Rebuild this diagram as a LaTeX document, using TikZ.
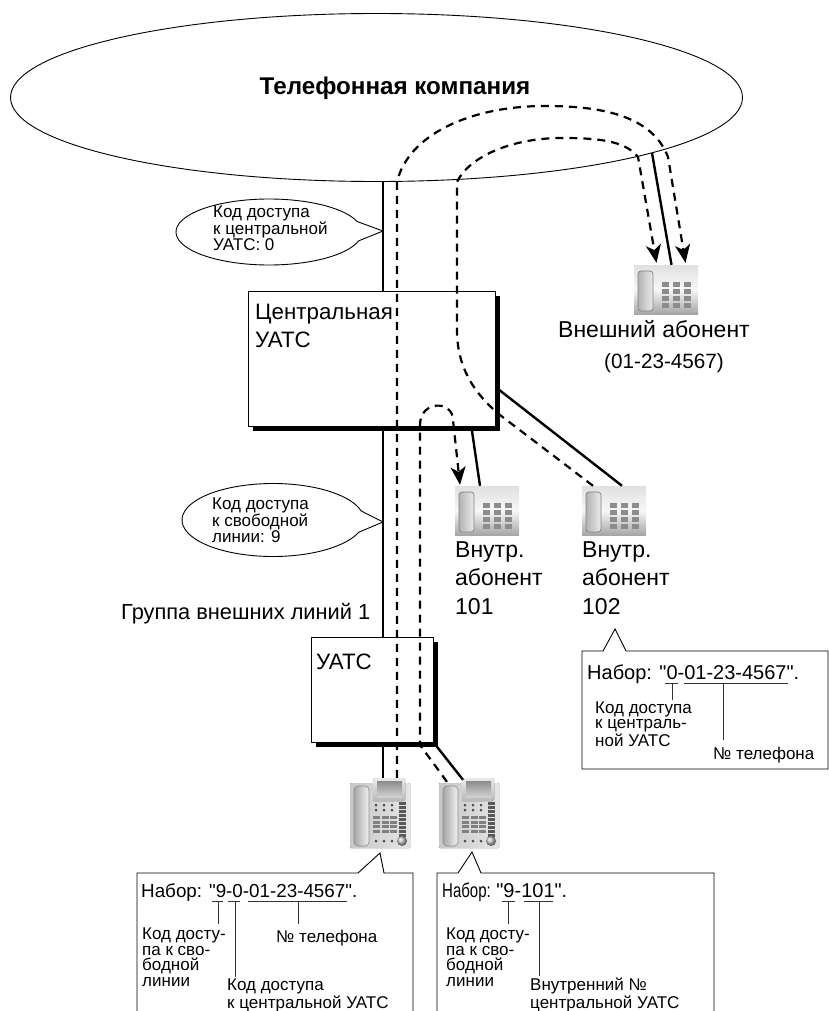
\documentclass[tikz,border=0pt]{standalone}
\usepackage{fontspec}
\usepackage{graphicx}
\setmainfont{Liberation Sans}[Ligatures=TeXOff]
\usetikzlibrary{arrows.meta,shapes.geometric,shapes.callouts,shadows}

\definecolor{keygray}{gray}{0.55}

\tikzset{
	trunk/.style={line width=2.4pt},
	route/.style={line width=2.2pt, dash pattern=on 8pt off 6pt},
	routetip/.style={route, -{Stealth[length=18pt,width=15pt,inset=5pt]}},
	pbxbox/.style={draw=black, fill=white, line width=1pt, inner sep=0pt, drop shadow={shadow xshift=5pt,shadow yshift=-5pt,fill=black,opacity=1}},
	bubble/.style={ellipse callout, draw=black, fill=white, line width=0.9pt, inner sep=0pt, callout pointer arc=34},
	balloon/.style={draw=black, fill=white, line width=0.9pt},
	lead/.style={line width=0.9pt, black!80},
	bigtxt/.style={anchor=base west, inner sep=0pt, align=left, font=\fontsize{23}{28.5}\selectfont},
	midtxt/.style={anchor=base west, inner sep=0pt, font=\fontsize{20}{24}\selectfont},
	smalltxt/.style={anchor=base west, inner sep=0pt, align=left, font=\fontsize{17}{15.5}\selectfont}
}

% #1 name, #2 left, #3 top
\newcommand{\smallphone}[3]{
	\node[minimum width=64pt, minimum height=49pt, inner sep=0pt, shading=axis, shading angle=60, top color=black!12, bottom color=black!35, middle color=black!3] (#1) at (#2+32,#3+24.5) {};
	\begin{scope}[shift={(#2,#3)}]
		\draw[black!50, line width=0.7pt, left color=black!30, right color=black!8, rounded corners=3pt] (4,6) rectangle (19,46);
		\foreach \kx in {28,39,50} \foreach \ky in {17,24,31,38}
			\fill[keygray] (\kx,\ky) rectangle (\kx+7,\ky+4.5);
	\end{scope}
}

% #1 name, #2 left, #3 top
\newcommand{\deskphone}[3]{
	\node[minimum width=60pt, minimum height=70pt, inner sep=0pt] (#1) at (#2+30,#3+35) {};
	\begin{scope}[shift={(#2,#3)}]
		\fill[left color=black!22, right color=black!10, rounded corners=1pt] (0,5) rectangle (60,70);
		\draw[black!45, line width=0.6pt, left color=black!35, right color=black!5, rounded corners=4pt] (4,8) rectangle (19,68);
		\fill[top color=black!8, bottom color=black!28, rounded corners=1.5pt] (23,0) rectangle (55,23);
		\fill[top color=black!45, bottom color=black!18] (27,3) rectangle (52,19);
		\foreach \kx in {26,34,42} {
			\fill[black!70] (\kx,27) circle (1.5);
			\fill[black!70] (\kx,32) circle (1.5);
			\fill[black!70] (\kx,63) circle (1.5);
		}
		\foreach \kx in {23,31.5,40} \foreach \ky in {38,42.7,47.4,52.1}
			\fill[black!50] (\kx,\ky) rectangle (\kx+7,\ky+3);
		\foreach \ky in {24,28,...,56}
			\fill[black!65] (49,\ky) rectangle (56,\ky+2.6);
		\shade[ball color=black!25] (52,63) circle (5);
	\end{scope}
}

% #1 name, #2 from x, #3 to x, #4 leader x, #5 y, #6 leader end y
\newcommand{\dialmark}[6]{
	\coordinate (#1a) at (#2,#5);
	\coordinate (#1b) at (#3,#5);
	\coordinate (#1c) at (#4,#5);
	\coordinate (#1d) at (#4,#6);
	\draw[lead] (#1a) -- (#1b);
	\draw[lead] (#1c) -- (#1d);
}

\begin{document}
\begin{tikzpicture}[x=1pt,y=-1pt]
	\useasboundingbox (0,0) rectangle (828,1011);

	\node[ellipse, draw=black, line width=0.9pt, fill=white, inner sep=0pt, minimum width=732pt, minimum height=168pt] (telco) at (376.5,97.5) {};
	\node[anchor=base, inner sep=0pt, font=\fontsize{24.2}{26}\selectfont\bfseries] (telcotxt) at (395,95) {Телефонная компания};

	\smallphone{extphone}{634}{265}
	\smallphone{ext101}{455}{486}
	\smallphone{ext102}{582}{486}
	\deskphone{deska}{350}{778}
	\deskphone{deskb}{439}{778}

	%solid lines
	\draw[trunk] ([xshift=3pt]deska.north) -- ([xshift=6.5pt]telco.south);
	\draw[trunk] (652,153) -- ([xshift=5.5pt]extphone.north);
	\draw[trunk] (472,431) -- ([xshift=-7pt]ext101.north);
	\draw[trunk] (498,389) -- ([xshift=8pt]ext102.north);
	\draw[trunk] (434,743) -- ([xshift=-6pt,yshift=-2pt]deskb.north);

	\node[pbxbox, minimum width=247pt, minimum height=135pt] (central) at (371.5,358.5) {};
	\node[bigtxt, font=\fontsize{22.3}{28}\selectfont] (centraltxt) at (255,347) {Центральная\\УАТС};
	\node[pbxbox, minimum width=122pt, minimum height=105pt] (pbx) at (372,689.5) {};
	\node[bigtxt, font=\fontsize{22.3}{28}\selectfont] (pbxtxt) at (316,669) {УАТС};

	\node[bubble, minimum width=186pt, minimum height=66pt, callout absolute pointer={(383,231)}] (codecentral) at (269,232) {};
	\node[smalltxt] (codecentraltxt) at (213,250) {Код доступа\\к центральной\\УАТС: 0};
	\node[bubble, minimum width=182pt, minimum height=73pt, callout absolute pointer={(383,522)}] (codefree) at (273,520) {};
	\node[smalltxt] (codefreetxt) at (212,542) {Код доступа\\к свободной\\линии: 9};

	%dashed routes
	\draw[routetip] ([xshift=17pt]deska.north) -- (397,182) .. controls (408,135) and (470,106) .. (545,106)
		.. controls (600,106) and (652,115) .. (668,157) -- ([xshift=19.5pt,yshift=2pt]extphone.north);
	\draw[routetip] ([xshift=-21pt]ext102.north) -- (500,415) .. controls (472,392) and (457,365) .. (457,330) -- (457,182)
		.. controls (470,155) and (515,138) .. (561,138) .. controls (595,138) and (625,140) .. (638,157) -- ([xshift=-9.5pt,yshift=2pt]extphone.north);
	\draw[routetip] ([xshift=-22pt,yshift=-4pt]deskb.north) -- (420,745) -- (420,425)
		.. controls (420,400) and (453,400) .. (453,420) -- ([xshift=-27pt,yshift=1pt]ext101.north);

	\node[bigtxt] (extname) at (558,337) {Внешний абонент};
	\node[anchor=base west, inner sep=0pt, font=\fontsize{20.7}{24}\selectfont] (extnum) at (604,368) {(01-23-4567)};
	\node[bigtxt] (name101) at (455,614) {Внутр.\\абонент\\101};
	\node[bigtxt] (name102) at (582,614) {Внутр.\\абонент\\102};
	\node[anchor=base west, inner sep=0pt, font=\fontsize{21.8}{26}\selectfont] (grouptxt) at (121,619) {Группа внешних линий 1};

	%balloons
	\draw[balloon] (582,651) -- (603,651) -- (615,629) -- (626,651) -- (828,651) -- (828,769) -- (582,769) -- cycle;
	\node[midtxt] (dial102) at (587,679) {Набор: "0-01-23-4567".};
	\dialmark{ma}{665}{678}{672}{683}{700}
	\dialmark{mb}{684}{788}{723}{683}{740}
	\node[smalltxt] (code102) at (595,746) {Код доступа\\к централь-\\ной УАТС};
	\node[smalltxt] (tel102) at (713,759) {№ телефона};

	\draw[balloon] (137,1012) -- (137,873) -- (358,873) -- (380,853) -- (384,873) -- (413,873) -- (413,1012);
	\node[midtxt, font=\fontsize{18.8}{24}\selectfont] (dialdeska) at (141,897) {Набор: "9-0-01-23-4567".};
	\dialmark{mc}{212}{223}{218}{901}{924}
	\dialmark{md}{228}{240}{235}{901}{977}
	\dialmark{me}{248}{347}{298}{901}{924}
	\node[smalltxt] (freea) at (142,986) {Код досту-\\па к сво-\\бодной\\линии};
	\node[smalltxt] (tela) at (276,942) {№ телефона};
	\node[smalltxt] (centrala) at (227,1008) {Код доступа\\к центральной УАТС};

	\draw[balloon] (437,1012) -- (437,873) -- (458,873) -- (472,852) -- (481,873) -- (714,873) -- (714,1012);
	\node[midtxt] (dialdeskb) at (442,897) {\scalebox{.75}[1]{Набор:} "9-101".};
	\dialmark{mf}{502}{515}{508}{901}{924}
	\dialmark{mg}{524}{553}{539}{901}{976}
	\node[smalltxt] (freeb) at (446,986) {Код досту-\\па к сво-\\бодной\\линии};
	\node[smalltxt] (centralb) at (530,1008) {Внутренний №\\центральной УАТС};
\end{tikzpicture}
\end{document}
